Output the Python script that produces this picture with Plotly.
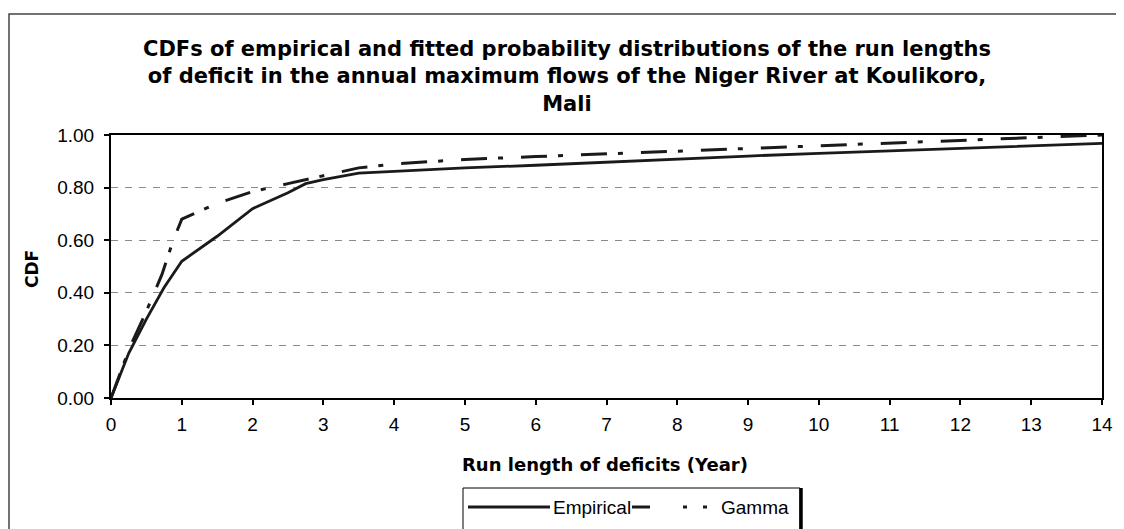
import plotly.graph_objects as go

# Data
emp_x = [0, 0.25, 0.5, 0.75, 1, 1.5, 2, 2.5, 2.75, 3, 3.5, 4, 5, 6, 7, 8, 9, 10, 11, 12, 13, 14]
emp_y = [0, 0.17, 0.30, 0.42, 0.52, 0.615, 0.72, 0.78, 0.815, 0.83, 0.855, 0.862, 0.875, 0.885,
         0.897, 0.908, 0.92, 0.93, 0.94, 0.948, 0.958, 0.968]

gam_x = [0, 0.1, 0.27, 0.5, 0.72, 0.88, 1, 1.5, 2, 2.5, 3, 3.5, 4, 5, 6, 7, 8, 9, 10, 11, 12, 13, 14]
gam_y = [0, 0.07, 0.195, 0.33, 0.47, 0.60, 0.68, 0.74, 0.785, 0.815, 0.845, 0.875, 0.89, 0.907,
         0.918, 0.928, 0.94, 0.95, 0.96, 0.97, 0.98, 0.99, 1.0]

series_names = ["Empirical", "Gamma"]
x_ticks = list(range(0, 15))
y_ticks = [0.0, 0.2, 0.4, 0.6, 0.8, 1.0]
y_ticklabels = ["0.00", "0.20", "0.40", "0.60", "0.80", "1.00"]

# page has an 8px body margin; screen coords below are converted to paper coords
OFF = 8
W, H = 1124 - OFF, 529 - OFF
SL, SR, ST, SB = 111, 1102, 135, 398          # plot area on screen
L, R, T, B = SL - OFF, W - (SR - OFF), ST - OFF, H - (SB - OFF)
pw, ph = SR - SL, SB - ST


def px(sx):
    return (sx - SL) / pw


def py(sy):
    return (SB - sy) / ph


LINE_COL = "#1a1a1a"
GAMMA_DASH = "26px,11px,5px,18px"

fig = go.Figure()
fig.add_trace(go.Scatter(x=emp_x, y=emp_y, mode="lines", name=series_names[0],
                         line=dict(color=LINE_COL, width=2.8), showlegend=False))
fig.add_trace(go.Scatter(x=gam_x, y=gam_y, mode="lines", name=series_names[1],
                         line=dict(color=LINE_COL, width=3, dash=GAMMA_DASH), showlegend=False))

font = "Liberation Sans, Arial, sans-serif"
bfont = "DejaVu Sans, Liberation Sans, sans-serif"

annotations = [
    dict(text="<b>CDFs of empirical and fitted probability distributions of the run lengths<br>"
              "of deficit in the annual maximum flows of the Niger River at Koulikoro,<br>Mali</b>",
         x=px(567), y=py(77), xref="paper", yref="paper", xanchor="center", yanchor="middle",
         showarrow=False, font=dict(size=21, family=bfont), align="center"),
    dict(text="<b>CDF</b>", textangle=-90, x=px(32), y=py(269), xref="paper", yref="paper",
         xanchor="center", yanchor="middle", showarrow=False, font=dict(size=17, family=bfont)),
    dict(text="<b>Run length of deficits (Year)</b>", x=px(605), y=py(464), xref="paper",
         yref="paper", xanchor="center", yanchor="middle", showarrow=False,
         font=dict(size=18, family=bfont)),
    # manual legend labels
    dict(text=series_names[0], x=px(551), y=py(507), xref="paper", yref="paper",
         xanchor="left", yanchor="middle", showarrow=False, font=dict(size=19, family=font)),
    dict(text=series_names[1], x=px(719), y=py(507), xref="paper", yref="paper",
         xanchor="left", yanchor="middle", showarrow=False, font=dict(size=19, family=font)),
]

shapes = [
    # outer chart frame
    dict(type="rect", xref="paper", yref="paper", x0=px(9), x1=px(1121), y0=py(560), y1=py(14),
         line=dict(color="#444", width=1.5), layer="below"),
    # legend box
    dict(type="rect", xref="paper", yref="paper", x0=px(463), x1=px(800), y0=py(560), y1=py(488),
         line=dict(color="black", width=1), fillcolor="white", layer="below"),
    dict(type="line", xref="paper", yref="paper", x0=px(801), x1=px(801), y0=py(488), y1=py(560),
         line=dict(color="black", width=3.5)),
    # legend samples
    dict(type="line", xref="paper", yref="paper", x0=px(468), x1=px(550), y0=py(507), y1=py(507),
         line=dict(color=LINE_COL, width=2.8)),
    dict(type="line", xref="paper", yref="paper", x0=px(632), x1=px(717), y0=py(507), y1=py(507),
         line=dict(color=LINE_COL, width=3, dash="18px,33px,4px,16px,4px,100px")),
]

fig.update_layout(
    width=W, height=H,
    margin=dict(l=L, r=R, t=T, b=B),
    paper_bgcolor="white", plot_bgcolor="white",
    font=dict(family=font, color="black", size=19),
    showlegend=False,
    xaxis=dict(range=[0, 14], tickvals=x_ticks, ticks="outside", ticklen=5, tickcolor="black",
               tickwidth=1.5, showline=True, linecolor="black", linewidth=2, mirror=True,
               showgrid=False, zeroline=False, tickfont=dict(size=19, family=font),
               ticklabelstandoff=3),
    yaxis=dict(range=[0, 1], tickvals=y_ticks, ticktext=y_ticklabels, ticks="outside",
               ticklen=5, tickcolor="black", tickwidth=1.5, showline=True, linecolor="black",
               linewidth=2, mirror=True, showgrid=True, gridcolor="#8a8a8a",
               griddash="7px,7px", gridwidth=1, zeroline=False,
               tickfont=dict(size=19, family=font), ticklabelstandoff=6),
    annotations=annotations,
    shapes=shapes,
)

fig.write_html("out.html")
